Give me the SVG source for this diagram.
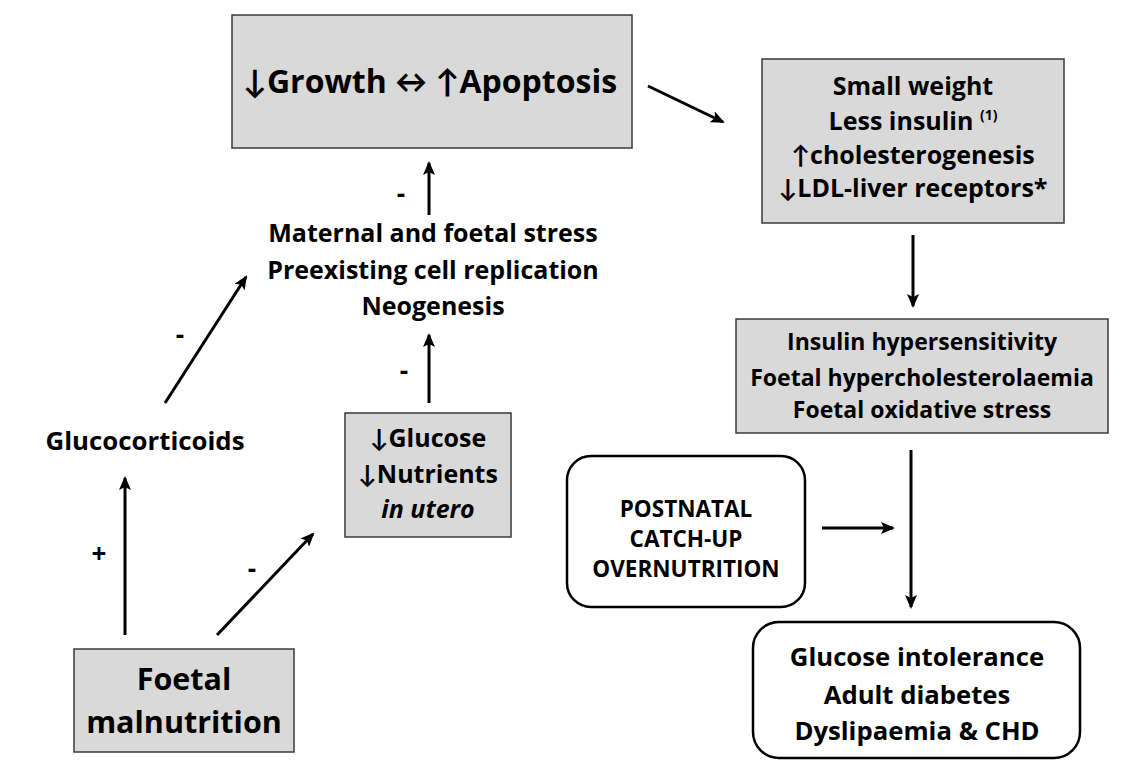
<svg xmlns="http://www.w3.org/2000/svg" width="1135" height="762" viewBox="0 0 1135 762">
<style>
text{font-family:"Open Sans",Lato,"Liberation Sans",sans-serif;font-weight:bold;fill:#000;text-anchor:middle}
.box{fill:#d9d9d9;stroke:#3a3a3a;stroke-width:1.5}
.rbox{fill:#fff;stroke:#000;stroke-width:2.5}
.arr{stroke:#000;stroke-width:3;fill:none;marker-end:url(#ah)}
.sign{font-size:26px}
</style>
<defs>
<marker id="ah" markerUnits="userSpaceOnUse" markerWidth="14" markerHeight="12" refX="12" refY="6" orient="auto">
<path d="M0,0 L14,6 L0,12 L3,6 z" fill="#000"/>
</marker>
</defs>
<rect width="1135" height="762" fill="#fff"/>

<g id="growth">
<rect class="box" x="232" y="15" width="400" height="133"/>
<text x="430" y="93" font-size="32">↓Growth ↔ ↑Apoptosis</text>
</g>

<g id="smallweight">
<rect class="box" x="762" y="59" width="302" height="164"/>
<text x="913" y="95" font-size="25">Small weight</text>
<text x="913" y="130" font-size="25">Less insulin <tspan font-size="14" dy="-10">(1)</tspan></text>
<text x="913" y="164" font-size="25">↑cholesterogenesis</text>
<text x="913" y="197" font-size="25">↓LDL-liver receptors*</text>
</g>

<g id="stress">
<text x="433" y="242" font-size="25">Maternal and foetal stress</text>
<text x="433" y="279" font-size="25">Preexisting cell replication</text>
<text x="433" y="315" font-size="25">Neogenesis</text>
</g>

<g id="insulin">
<rect class="box" x="736" y="319" width="372" height="114"/>
<text x="922" y="350" font-size="23">Insulin hypersensitivity</text>
<text x="922" y="386" font-size="23">Foetal hypercholesterolaemia</text>
<text x="922" y="418" font-size="23">Foetal oxidative stress</text>
</g>

<g id="glucocorticoids">
<text x="145" y="450" font-size="25.8">Glucocorticoids</text>
</g>

<g id="glucose">
<rect class="box" x="345" y="413" width="166" height="124"/>
<text x="428" y="447" font-size="25">↓Glucose</text>
<text x="428" y="483" font-size="25">↓Nutrients</text>
<text x="428" y="518" font-size="25" font-style="italic">in utero</text>
</g>

<g id="postnatal">
<rect class="rbox" x="567" y="456" width="238" height="151" rx="24"/>
<text x="686" y="517" font-size="22.5">POSTNATAL</text>
<text x="686" y="547" font-size="22.5">CATCH-UP</text>
<text x="686" y="577" font-size="22.5">OVERNUTRITION</text>
</g>

<g id="malnutrition">
<rect class="box" x="74" y="649" width="220" height="103"/>
<text x="184" y="690" font-size="30.5">Foetal</text>
<text x="184" y="733" font-size="30.5">malnutrition</text>
</g>

<g id="outcome">
<rect class="rbox" x="753" y="622" width="327" height="136" rx="26"/>
<text x="917" y="666" font-size="25.7">Glucose intolerance</text>
<text x="917" y="704" font-size="25.7">Adult diabetes</text>
<text x="917" y="740" font-size="25.7">Dyslipaemia &amp; CHD</text>
</g>

<g id="connectors">
<line class="arr" x1="429" y1="215" x2="429" y2="163"/>
<line class="arr" x1="429" y1="403" x2="429" y2="335"/>
<line class="arr" x1="165" y1="403" x2="246" y2="277"/>
<line class="arr" x1="125" y1="635" x2="125" y2="478"/>
<line class="arr" x1="217" y1="635" x2="313" y2="534"/>
<line class="arr" x1="648" y1="86" x2="723" y2="122"/>
<line class="arr" x1="913" y1="235" x2="913" y2="306"/>
<line class="arr" x1="822" y1="528" x2="893" y2="528"/>
<line class="arr" x1="911" y1="450" x2="911" y2="607"/>
<text class="sign" x="401" y="203">-</text>
<text class="sign" x="404" y="380">-</text>
<text class="sign" x="180" y="344">-</text>
<text class="sign" x="99" y="563">+</text>
<text class="sign" x="252" y="578">-</text>
</g>
</svg>
